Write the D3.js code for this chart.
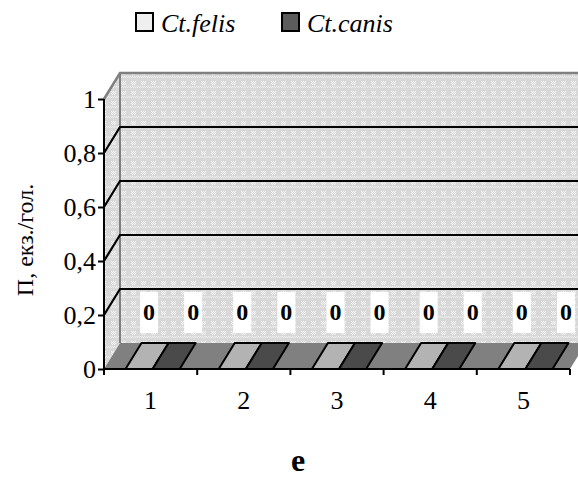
<!DOCTYPE html>
<html>
<head>
<meta charset="utf-8">
<script src="https://cdn.jsdelivr.net/npm/d3@7"></script>
<style>
  html, body { margin: 0; padding: 0; background: #fff; }
  svg { display: block; }
  text { font-family: "Liberation Serif", "Times New Roman", serif; fill: #000; }
</style>
</head>
<body>
<svg id="chart" width="578" height="479"></svg>
<script>
// Categories (x axis) and the two flea species
const categories = ["1", "2", "3", "4", "5"];
const seriesNames = ["Ct.felis", "Ct.canis"];
const felisValues = [0, 0, 0, 0, 0];
const canisValues = [0, 0, 0, 0, 0];
const yTickValues = [0, 0.2, 0.4, 0.6, 0.8, 1];
const yTickLabels = ["0", "0,2", "0,4", "0,6", "0,8", "1"];
const gridValues = [0.2, 0.4, 0.6, 0.8];
const yTitle = "П, екз./гол.";
const panelLabel = "e";

const svg = d3.select("#chart");
const W = 578, H = 479;
const serif = "'Liberation Serif', 'Times New Roman', serif";

// plot frame (front plane) and 3D depth offset
const plotLeft = 104, plotRight = 570, plotBottom = 369, plotTop = 99;
const depthX = 16, depthY = -26;

const x = d3.scaleBand().domain(categories).range([plotLeft, plotRight]);
const xInner = d3.scaleBand().domain(seriesNames).range([2, x.bandwidth() + 2]).paddingOuter(0.72);
const y = d3.scaleLinear().domain([0, 1]).range([plotBottom, plotTop]);

const colors = {
  wallStroke: "#808080",
  floor: "#808080",
  bars: ["#b3b3b3", "#4a4a4a"],
  legend: ["#efefef", "#5c5c5c"]
};

// dotted wall texture
const defs = svg.append("defs");
const pat = defs.append("pattern")
  .attr("id", "wallPattern").attr("patternUnits", "userSpaceOnUse")
  .attr("width", 10).attr("height", 10);
pat.append("rect").attr("width", 10).attr("height", 10).attr("fill", "#d8d8d8");
const dots = [];
for (let i = 0; i < 5; i++) for (let j = 0; j < 4; j++) if ((i + j) % 2 === 0) dots.push([i, j]);
pat.selectAll("rect.d").data(dots).join("rect").attr("class", "d")
  .attr("x", d => d[0] + 1).attr("y", d => d[1] + 1)
  .attr("width", 1).attr("height", 1).attr("fill", "#f6f6f6");
const dots2 = [];
for (let i = 0; i < 10; i++) for (let j = 6; j < 8; j++) if ((i + j) % 2 === 0) dots2.push([i, j]);
pat.selectAll("rect.e").data(dots2).join("rect").attr("class", "e")
  .attr("x", d => d[0]).attr("y", d => d[1])
  .attr("width", 1).attr("height", 1).attr("fill", "#eeeeee");

svg.append("rect").attr("width", W).attr("height", H).attr("fill", "#fff");

const backLeft = plotLeft + depthX;
const backRight = plotRight + depthX;
const y0 = y(0), y1 = y(1);

// back wall
svg.append("rect")
  .attr("x", backLeft).attr("y", y1 + depthY)
  .attr("width", backRight - backLeft).attr("height", y0 - y1)
  .attr("fill", "url(#wallPattern)");

// side wall
svg.append("path")
  .attr("d", `M${plotLeft},${y1} L${backLeft},${y1 + depthY} L${backLeft},${y0 + depthY} L${plotLeft},${y0} Z`)
  .attr("fill", "url(#wallPattern)");

// wall outline
svg.append("path")
  .attr("d", `M${plotLeft},${y1} L${backLeft},${y1 + depthY} L${backRight},${y1 + depthY}`)
  .attr("fill", "none").attr("stroke", colors.wallStroke).attr("stroke-width", 2.5);
svg.append("line")
  .attr("x1", backLeft).attr("x2", backLeft)
  .attr("y1", y1 + depthY).attr("y2", y0 + depthY)
  .attr("stroke", colors.wallStroke).attr("stroke-width", 2);

// gridlines across side and back walls
svg.append("g").selectAll("path").data(gridValues).join("path")
  .attr("d", v => `M${plotLeft},${y(v)} L${backLeft},${y(v) + depthY} L${backRight},${y(v) + depthY}`)
  .attr("fill", "none").attr("stroke", "#000").attr("stroke-width", 2.2);

// floor
svg.append("path")
  .attr("d", `M${plotLeft},${y0} L${plotRight},${y0} L${backRight},${y0 + depthY} L${backLeft},${y0 + depthY} Z`)
  .attr("fill", colors.floor);

// bars (3D columns seen from above at their value)
const barData = [];
categories.forEach((c, i) => {
  [felisValues[i], canisValues[i]].forEach((v, s) => {
    barData.push({ cat: c, series: seriesNames[s], s, value: v });
  });
});
const barW = xInner.bandwidth();
svg.append("g").selectAll("path").data(barData).join("path")
  .attr("d", d => {
    const x0 = x(d.cat) + xInner(d.series);
    const yv = y(d.value);
    return `M${x0},${yv} L${x0 + barW},${yv} L${x0 + barW + depthX},${yv + depthY} L${x0 + depthX},${yv + depthY} Z`;
  })
  .attr("fill", d => colors.bars[d.s])
  .attr("stroke", "#000").attr("stroke-width", 2).attr("stroke-linejoin", "round");

// value labels
const labelShift = [2, 19];
const lbl = svg.append("g").selectAll("g").data(barData).join("g")
  .attr("transform", d => {
    const cx = x(d.cat) + xInner(d.series) + barW / 2 + depthX / 2 + labelShift[d.s];
    return `translate(${cx},${y(d.value) - 57})`;
  });
lbl.append("rect").attr("x", -9).attr("y", -20).attr("width", 18).attr("height", 41).attr("fill", "#fff");
lbl.append("text").attr("text-anchor", "middle").attr("dy", "0.35em")
  .attr("font-family", serif).attr("font-size", 24).attr("font-weight", "bold")
  .text(d => String(d.value));

// y axis
const yAxis = d3.axisLeft(y).tickValues(yTickValues)
  .tickFormat((d, i) => yTickLabels[i]).tickSize(6).tickPadding(2);
const gy = svg.append("g").attr("transform", `translate(${plotLeft},0)`).call(yAxis);
gy.attr("font-family", serif).attr("font-size", 26);
gy.select(".domain").attr("stroke", "#000").attr("stroke-width", 2).attr("d", `M0,${y1}V${y0}`);
gy.selectAll(".tick line").attr("stroke", "#000").attr("stroke-width", 2);
gy.selectAll(".tick text").attr("fill", "#000");

// x axis line and category ticks
svg.append("line").attr("x1", plotLeft).attr("x2", plotRight).attr("y1", y0).attr("y2", y0)
  .attr("stroke", "#000").attr("stroke-width", 2);
const bounds = categories.map(c => x(c)).concat([x(categories[categories.length - 1]) + x.bandwidth()]);
svg.append("g").selectAll("line").data(bounds).join("line")
  .attr("x1", d => d).attr("x2", d => d).attr("y1", y0).attr("y2", y0 + 6)
  .attr("stroke", "#000").attr("stroke-width", 2);
svg.append("g").selectAll("text").data(categories).join("text")
  .attr("x", d => x(d) + x.bandwidth() / 2).attr("y", 409)
  .attr("text-anchor", "middle").attr("font-family", serif).attr("font-size", 26).text(d => d);

// y axis title
svg.append("text")
  .attr("transform", `translate(33,240) rotate(-90)`)
  .attr("text-anchor", "middle").attr("font-family", serif).attr("font-size", 24).text(yTitle);

// panel label
svg.append("text").attr("x", 298).attr("y", 471).attr("text-anchor", "middle")
  .attr("font-family", serif).attr("font-size", 32).attr("font-weight", "bold").text(panelLabel);

// legend
const legendX = [136, 282];
const lg = svg.append("g").selectAll("g").data(seriesNames).join("g")
  .attr("transform", (d, i) => `translate(${legendX[i]},13)`);
lg.append("rect").attr("width", 17).attr("height", 18)
  .attr("fill", (d, i) => colors.legend[i]).attr("stroke", "#000").attr("stroke-width", 2);
lg.append("text").attr("x", 25).attr("y", 19)
  .attr("font-family", serif).attr("font-size", 26).attr("font-style", "italic").text(d => d);
</script>
</body>
</html>
